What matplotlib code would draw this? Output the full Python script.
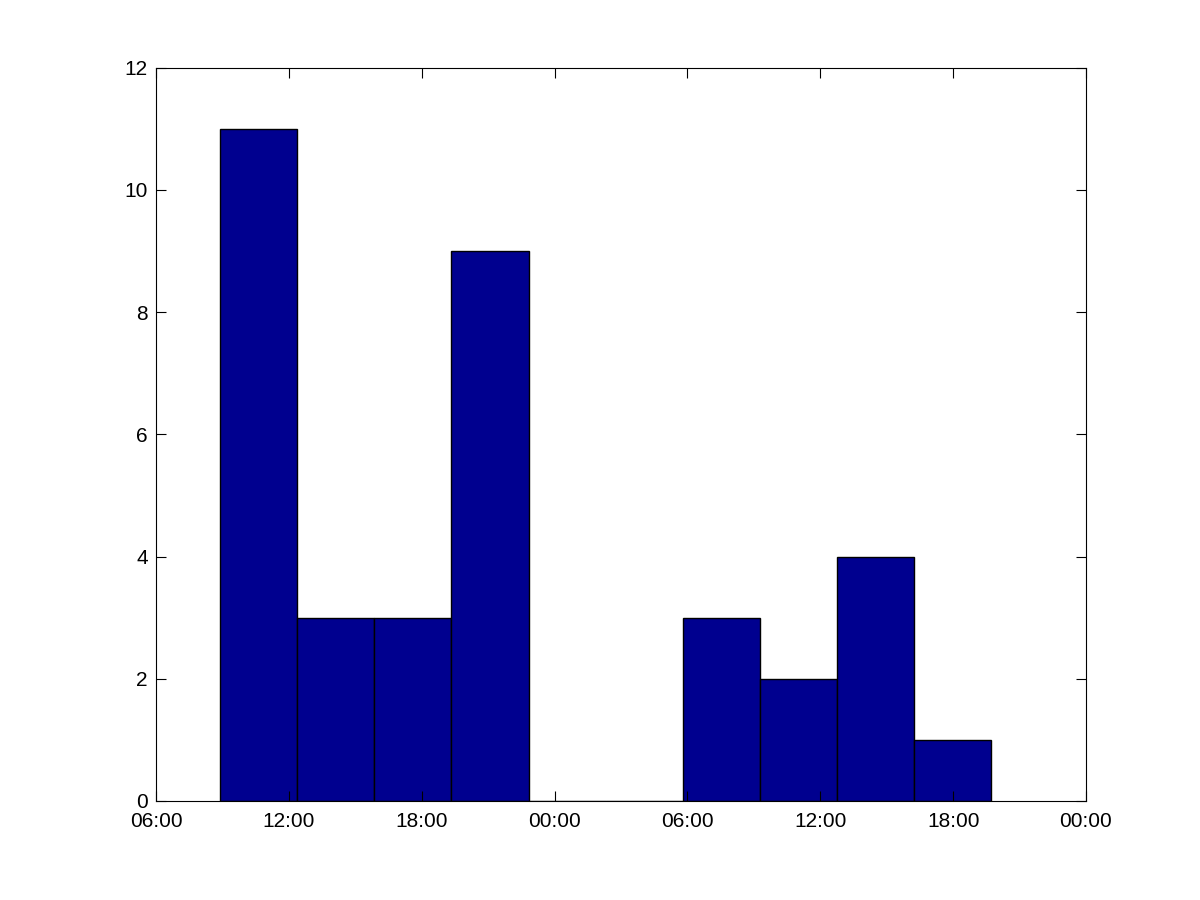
import matplotlib
matplotlib.use("Agg")
import matplotlib.pyplot as plt
import matplotlib.dates as mdates
import numpy as np
from datetime import datetime, timedelta

# histogram: 10 bins between first and last event
t_start = datetime(2013, 1, 1, 8, 54)
t_end = datetime(2013, 1, 2, 19, 43)
counts = [11, 3, 3, 9, 0, 0, 3, 2, 4, 1]

x_min = datetime(2013, 1, 1, 6, 0)
x_max = datetime(2013, 1, 3, 0, 0)
tick_times = [x_min + timedelta(hours=6 * i) for i in range(8)]

plt.rcParams['font.family'] = ['Liberation Sans', 'DejaVu Sans']

fig = plt.figure(figsize=(12, 9), dpi=100)
ax = fig.add_axes([0.13, 0.11, 0.775, 0.815])

s = mdates.date2num(t_start)
e = mdates.date2num(t_end)
edges = np.linspace(s, e, len(counts) + 1)
w = edges[1] - edges[0]
ax.bar(edges[:-1], counts, width=w, align="edge",
       color="#00008F", edgecolor="black", linewidth=1)

ax.set_xlim(mdates.date2num(x_min), mdates.date2num(x_max))
ax.set_ylim(0, 12)
ax.set_yticks(range(0, 13, 2))
ax.set_xticks(mdates.date2num(tick_times))
ax.xaxis.set_major_formatter(mdates.DateFormatter("%H:%M"))
ax.tick_params(direction="in", length=7, width=0.8, top=True, right=True,
               labelsize=15, pad=6)
ax.tick_params(axis="x", pad=8)
for sp in ax.spines.values():
    sp.set_linewidth(0.8)

fig.savefig("out.png", dpi=100)
